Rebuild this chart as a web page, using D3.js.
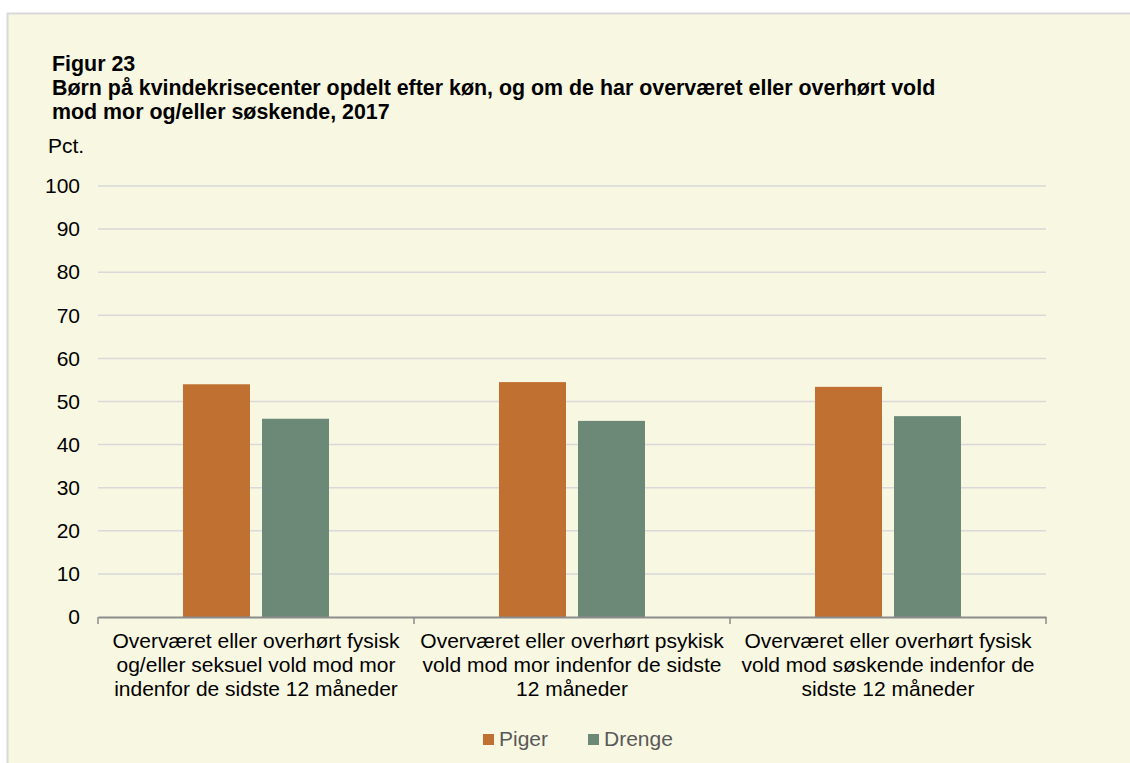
<!DOCTYPE html>
<html>
<head>
<meta charset="utf-8">
<script src="https://cdn.jsdelivr.net/npm/d3@7/dist/d3.min.js"></script>
<style>
html,body{margin:0;padding:0;background:#ffffff;}
svg{display:block;font-family:"Liberation Sans",Arial,sans-serif;}
</style>
</head>
<body>
<svg id="chart" width="1130" height="763"></svg>
<script>
const categories = [
  ["Overværet eller overhørt fysisk", "og/eller seksuel vold mod mor", "indenfor de sidste 12 måneder"],
  ["Overværet eller overhørt psykisk", "vold mod mor indenfor de sidste", "12 måneder"],
  ["Overværet eller overhørt fysisk", "vold mod søskende indenfor de", "sidste 12 måneder"]
];
const seriesNames = ["Piger", "Drenge"];
const piger = [54.0, 54.5, 53.4];
const drenge = [46.0, 45.5, 46.6];
const yTicks = [0, 10, 20, 30, 40, 50, 60, 70, 80, 90, 100];
const titleLines = ["Figur 23",
  "Børn på kvindekrisecenter opdelt efter køn, og om de har overværet eller overhørt vold",
  "mod mor og/eller søskende, 2017"];
const yUnit = "Pct.";

const colors = {Piger: "#C07030", Drenge: "#6C8877"};
const seriesValues = {Piger: piger, Drenge: drenge};

const svg = d3.select("#chart");
svg.append("rect").attr("x", 7.5).attr("y", 13.5).attr("width", 1130).attr("height", 760)
  .attr("fill", "#F8F7E2").attr("stroke", "#D9D9D9").attr("stroke-width", 2);

const m = {left: 98, right: 1046, top: 186, bottom: 617};
const catIdx = categories.map((d, i) => i);
const x0 = d3.scaleBand().domain(catIdx).range([m.left, m.right]).paddingInner(0).paddingOuter(0);
const x1 = d3.scaleBand().domain(seriesNames).range([0, x0.bandwidth()]).paddingInner(0.152).paddingOuter(1.076);
const y = d3.scaleLinear().domain([0, 100]).range([m.bottom, m.top]);

// gridlines
svg.append("g").selectAll("line").data(yTicks.filter(t => t > 0)).join("line")
  .attr("x1", m.left).attr("x2", m.right)
  .attr("y1", d => y(d)).attr("y2", d => y(d))
  .attr("stroke", "#D9D9D9").attr("stroke-width", 1.5);

// y axis labels
const yAxis = d3.axisLeft(y).tickValues(yTicks).tickSize(0).tickPadding(0);
const gy = svg.append("g").attr("transform", `translate(80,0)`).call(yAxis);
gy.select(".domain").remove();
gy.selectAll("text").attr("font-size", 21).attr("fill", "#000").attr("font-family", "Liberation Sans, Arial, sans-serif");

// bars
const groups = svg.append("g").selectAll("g").data(catIdx).join("g")
  .attr("transform", d => `translate(${x0(d)},0)`);
groups.selectAll("rect").data(i => seriesNames.map(s => ({s, v: seriesValues[s][i]}))).join("rect")
  .attr("x", d => x1(d.s)).attr("width", x1.bandwidth())
  .attr("y", d => y(d.v)).attr("height", d => y(0) - y(d.v))
  .attr("fill", d => colors[d.s]);

// x axis
const xAxis = d3.axisBottom(x0).tickSize(0).tickFormat("");
const gx = svg.append("g").attr("transform", `translate(0,${m.bottom})`).call(xAxis);
gx.select(".domain").attr("stroke", "#8C8C8C").attr("stroke-width", 2);
const bounds = [m.left, ...catIdx.map(i => x0(i) + x0.bandwidth())];
svg.append("g").selectAll("line").data(bounds).join("line")
  .attr("x1", d => d).attr("x2", d => d).attr("y1", m.bottom).attr("y2", m.bottom + 7)
  .attr("stroke", "#8C8C8C").attr("stroke-width", 1.5);

// category labels
const catG = svg.append("g");
categories.forEach((lines, i) => {
  const t = catG.append("text").attr("text-anchor", "middle")
    .attr("font-size", 21).attr("fill", "#000");
  lines.forEach((l, j) => {
    t.append("tspan").attr("x", x0(i) + x0.bandwidth() / 2).attr("y", 648 + j * 24).text(l);
  });
});

// title
titleLines.forEach((l, j) => {
  svg.append("text").attr("x", 52).attr("y", 71 + j * 24)
    .attr("font-size", 21.4).attr("font-weight", "bold").attr("fill", "#000").text(l);
});
svg.append("text").attr("x", 48).attr("y", 153).attr("font-size", 21).attr("fill", "#000").text(yUnit);

// legend
const legX = [483, 588];
const leg = svg.append("g");
seriesNames.forEach((s, i) => {
  leg.append("rect").attr("x", legX[i]).attr("y", 734).attr("width", 11).attr("height", 11).attr("fill", colors[s]);
  leg.append("text").attr("x", legX[i] + 16).attr("y", 746).attr("font-size", 21).attr("fill", "#595959").text(s);
});
</script>
</body>
</html>
